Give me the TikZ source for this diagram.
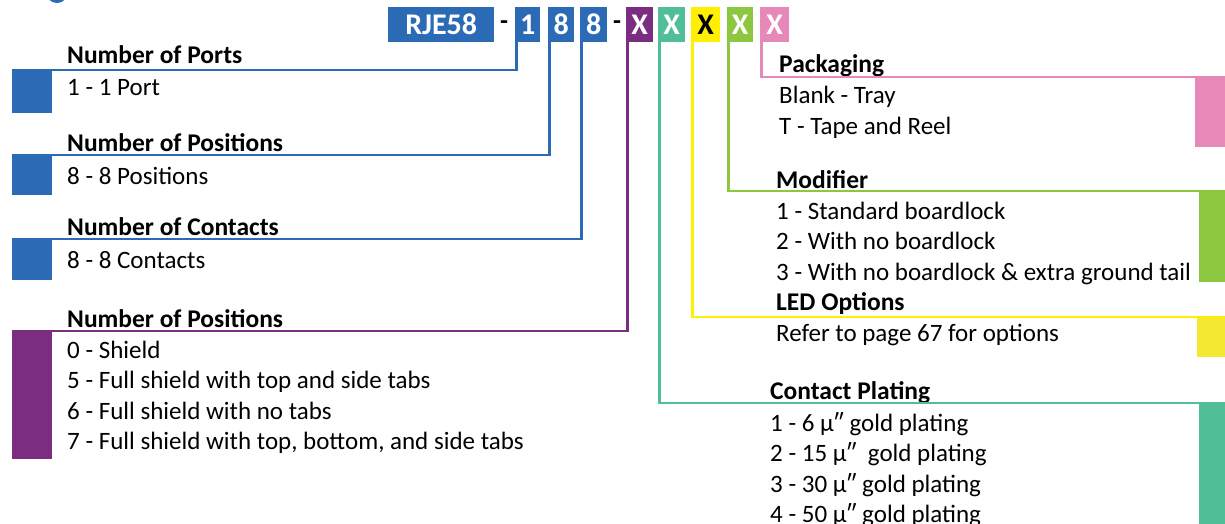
\documentclass[tikz,border=0pt]{standalone}
\usepackage{fontspec}
\setmainfont{Carlito}
\usetikzlibrary{positioning}
\definecolor{pnblue}{RGB}{43,106,180}
\definecolor{pnpurple}{RGB}{123,45,130}
\definecolor{pnteal}{RGB}{80,190,150}
\definecolor{pnyellow}{RGB}{255,240,0}
\definecolor{pnyellowsq}{RGB}{245,232,50}
\definecolor{pngreen}{RGB}{141,198,63}
\definecolor{pnpink}{RGB}{230,137,185}
\tikzstyle{code} = [rectangle, anchor=north west, inner sep=0pt, minimum height=35pt, minimum width=27pt, text=white, font=\fontsize{30}{30}\selectfont\bfseries]
\tikzstyle{hyphen} = [inner sep=0pt, font=\fontsize{26}{26}\selectfont\bfseries]
\tikzstyle{head} = [anchor=base west, inner sep=0pt, font=\fontsize{25.5}{28}\selectfont\bfseries]
% multi-line nodes: base = baseline of the last line
\tikzstyle{items} = [anchor=base west, inner sep=0pt, align=left, font=\fontsize{25}{30.5}\selectfont]
\tikzstyle{square} = [rectangle, inner sep=0pt]
\tikzstyle{link} = [line width=2.6pt]

\begin{document}
\begin{tikzpicture}[x=1pt, y=-1pt]
      \useasboundingbox (0,0) rectangle (1225,524);
      \begin{scope}
        \clip (0,0) rectangle (1225,524);
        \draw [pnblue, line width=3pt] (57,-9) ellipse (10 and 10.5);
      \end{scope}

      % part number
      \node (rje) [code, fill=pnblue, minimum width=106pt] at (388,7) {RJE58};
      \node (hyphena) [hyphen] at (504,25) {-};
      \node (ports) [code, fill=pnblue, minimum width=25pt] at (515,7) {1};
      \node (posn) [code, fill=pnblue, minimum width=26pt] at (548,7) {8};
      \node (cont) [code, fill=pnblue] at (580,7) {8};
      \node (hyphenb) [hyphen] at (617,25) {-};
      \node (shld) [code, fill=pnpurple] at (626,7) {X};
      \node (plat) [code, fill=pnteal] at (658,7) {X};
      \node (led) [code, fill=pnyellow, text=black, minimum width=29pt] at (691,7) {X};
      \node (modf) [code, fill=pngreen, minimum width=26pt] at (727,7) {X};
      \node (pack) [code, fill=pnpink, minimum width=29pt] at (760,7) {X};

      % left side
      \node (sqports) [square, fill=pnblue, anchor=north west, minimum width=40pt, minimum height=43pt] at (12,70) {};
      \node (hports) [head] at (67,64) {Number of Ports};
      \node (iports) [items] at (67,96) {1 - 1 Port};

      \node (sqposn) [square, fill=pnblue, anchor=north west, minimum width=40pt, minimum height=40pt] at (12,155) {};
      \node (hposn) [head] at (67,151) {Number of Positions};
      \node (iposn) [items] at (67,184) {8 - 8 Positions};

      \node (sqcont) [square, fill=pnblue, anchor=north west, minimum width=40pt, minimum height=41pt] at (12,239) {};
      \node (hcont) [head] at (67,235) {Number of Contacts};
      \node (icont) [items] at (67,268) {8 - 8 Contacts};

      \node (sqshld) [square, fill=pnpurple, anchor=north west, minimum width=40pt, minimum height=128pt] at (12,331) {};
      \node (hshld) [head] at (67,327) {Number of Positions};
      \node (ishld) [items] at (67,449.5) {0 - Shield\\5 - Full shield with top and side tabs\\6 - Full shield with no tabs\\7 - Full shield with top, bottom, and side tabs};

      % right side
      \node (sqpack) [square, fill=pnpink, anchor=north east, minimum width=30pt, minimum height=70pt] at (1225,77) {};
      \node (hpack) [head] at (779,73) {Packaging};
      \node (ipack) [items] at (779,134.5) {Blank - Tray\\T - Tape and Reel};

      \node (sqmodf) [square, fill=pngreen, anchor=north east, minimum width=26pt, minimum height=91pt] at (1225,191) {};
      \node (hmodf) [head] at (776,188) {Modifier};
      \node (imodf) [items] at (776,280) {1 - Standard boardlock\\2 - With no boardlock\\3 - With no boardlock \& extra ground tail};

      \node (sqled) [square, fill=pnyellowsq, anchor=north east, minimum width=28pt, minimum height=40pt] at (1225,317) {};
      \node (hled) [head] at (776,310) {LED Options};
      \node (iled) [items] at (776,341) {Refer to page 67 for options};

      \node (sqplat) [square, fill=pnteal, anchor=north east, minimum width=26pt, minimum height=121pt] at (1225,403) {};
      \node (hplat) [head] at (770,399) {Contact Plating};
      \node (iplat) [items] at (770,522.5) {1 - 6 µ″ gold plating\\2 - 15 µ″~ gold plating\\3 - 30 µ″ gold plating\\4 - 50 µ″ gold plating};

      % Lines
      \draw [link, pnblue] ([xshift=1.3pt]ports.south west) |- (sqports.north west);
      \draw [link, pnblue] ([xshift=1.3pt]posn.south west) |- (sqposn.north west);
      \draw [link, pnblue] ([xshift=1.3pt]cont.south west) |- (sqcont.north west);
      \draw [link, pnpurple] ([xshift=1.3pt]shld.south west) |- (sqshld.north west);
      \draw [link, pnteal] ([xshift=1.3pt]plat.south west) |- (sqplat.north east);
      \draw [link, pnyellow] ([xshift=1.3pt]led.south west) |- (sqled.north east);
      \draw [link, pngreen] ([xshift=1.3pt]modf.south west) |- (sqmodf.north east);
      \draw [link, pnpink] ([xshift=1.3pt]pack.south west) |- (sqpack.north east);

\end{tikzpicture}
\end{document}
